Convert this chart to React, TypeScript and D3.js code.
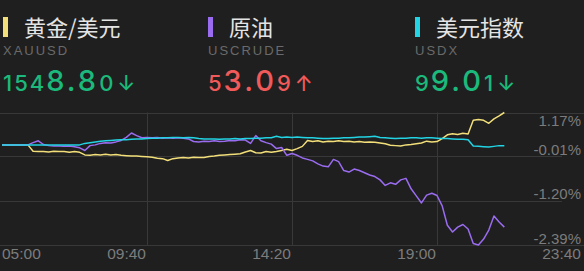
import React from "react";
import * as d3 from "d3";

const W = 584;
const H = 271;

// Quote header
const quoteNames = ["黄金/美元", "原油", "美元指数"];
const quoteCodes = ["XAUUSD", "USCRUDE", "USDX"];
const quotePrices = ["1548.80", "53.09", "99.01"];
const quoteMoves = ["down", "up", "down"];
const seriesColors = ["#f2df7a", "#9a6cf0", "#22d4e4"];

// Axes
const timeLabels = ["05:00", "09:40", "14:20", "19:00", "23:40"];
const timeTicks = [0, 280, 560, 840, 1120]; // minutes after 05:00
const pctTicks = [1.17, -0.01, -1.2, -2.39];
const pctLabels = ["1.17%", "-0.01%", "-1.20%", "-2.39%"];

// Intraday change (%), one sample every 10 minutes from 05:00
const sampleMinutes = d3.range(0, 971, 10);

const gold = [
  0.3, 0.3, 0.3, 0.3, 0.3, 0.3, 0.13, 0.12, 0.12, 0.11,
  0.13, 0.12, 0.12, 0.1, 0.12, 0.1, 0.03, 0.02, 0.04, 0.03,
  0.05, 0.03, 0.04, 0.02, 0.01, 0.0, 0.0, -0.01, -0.02, -0.03,
  -0.06, -0.07, -0.12, -0.07, -0.05, -0.04, -0.05, -0.03, -0.04, -0.04,
  -0.01, 0.0, 0.02, 0.03, 0.04, 0.05, 0.06, 0.11, 0.15, 0.09,
  0.08, 0.12, 0.1, 0.12, 0.15, 0.18, 0.15, 0.2, 0.26, 0.42,
  0.39, 0.41, 0.38, 0.4, 0.39, 0.41, 0.39, 0.4, 0.38, 0.39,
  0.37, 0.38, 0.37, 0.35, 0.33, 0.29, 0.28, 0.27, 0.3, 0.31,
  0.33, 0.35, 0.4, 0.38, 0.39, 0.47, 0.57, 0.6, 0.58, 0.61,
  0.59, 0.96, 0.98, 0.96, 0.88, 1.0, 1.08, 1.17,
];

const oil = [
  0.3, 0.3, 0.3, 0.3, 0.3, 0.3, 0.36, 0.41, 0.31, 0.28,
  0.27, 0.27, 0.26, 0.27, 0.25, 0.22, 0.15, 0.28, 0.3, 0.34,
  0.36, 0.35, 0.38, 0.42, 0.5, 0.62, 0.55, 0.49, 0.5, 0.49,
  0.5, 0.48, 0.49, 0.48, 0.49, 0.48, 0.46, 0.39, 0.38, 0.4,
  0.39, 0.41, 0.39, 0.4, 0.42, 0.41, 0.44, 0.43, 0.34, 0.55,
  0.41, 0.36, 0.32, 0.2, 0.23, 0.02, 0.07, 0.02, -0.05, -0.09,
  -0.13, -0.21, -0.27, -0.29, -0.09, -0.15, -0.39, -0.43, -0.35, -0.39,
  -0.45, -0.51, -0.55, -0.64, -0.79, -0.72, -0.76, -0.64, -0.6, -0.88,
  -1.07, -1.26, -1.05, -1.0, -1.06, -1.34, -1.86, -2.04, -1.91, -1.84,
  -1.96, -2.35, -2.39, -2.23, -1.99, -1.61, -1.77, -1.91,
];

const usdx = [
  0.3, 0.3, 0.3, 0.3, 0.3, 0.3, 0.3, 0.3, 0.3, 0.3,
  0.3, 0.3, 0.3, 0.3, 0.3, 0.3, 0.34, 0.36, 0.38, 0.4,
  0.41, 0.42, 0.43, 0.44, 0.44, 0.45, 0.46, 0.46, 0.47, 0.48,
  0.48, 0.49, 0.49, 0.5, 0.5, 0.49, 0.5, 0.49, 0.47, 0.46,
  0.46, 0.46, 0.45, 0.46, 0.46, 0.47, 0.46, 0.47, 0.47, 0.48,
  0.48, 0.49, 0.49, 0.53, 0.5, 0.51, 0.5, 0.51, 0.5, 0.49,
  0.49, 0.48, 0.47, 0.47, 0.48, 0.48, 0.49, 0.49, 0.5, 0.51,
  0.51, 0.52, 0.53, 0.5, 0.49, 0.48, 0.47, 0.48, 0.48, 0.49,
  0.49, 0.48, 0.49, 0.49, 0.48, 0.47, 0.47, 0.46, 0.45, 0.45,
  0.44, 0.27, 0.26, 0.25, 0.24, 0.26, 0.28, 0.28,
];

const seriesList = [gold, oil, usdx];

const BG = "#1f1f1f";
const GRID = "#383838";
const AXIS_TEXT = "#7c7c7c";
const UP = "#f05a5a";
const DOWN = "#1bb97b";
const LATIN = "'Liberation Sans', Arial, sans-serif";
const PRICE_FONT = "Inter, 'Liberation Sans', sans-serif";
const CJK = "'Noto Sans CJK SC', 'Noto Sans', sans-serif";

const columnX = [3, 208, 415];

function Quote({ i }: { i: number }) {
  const x0 = columnX[i];
  const price = quotePrices[i];
  const head = price.slice(0, -4);
  const mid = price.slice(-4, -1);
  const tail = price.slice(-1);
  const up = quoteMoves[i] === "up";
  const color = up ? UP : DOWN;
  return (
    <g>
      <rect x={x0} y={17} width={5} height={20} fill={seriesColors[i]} />
      <text x={x0 + 21} y={35.5} fill="#e4e4e4" fontSize={22} fontFamily={CJK}>
        {quoteNames[i]}
      </text>
      <text x={x0} y={55} fill="#6a6a6a" fontSize={13} letterSpacing={2} fontFamily={LATIN}>
        {quoteCodes[i]}
      </text>
      <text x={x0} y={91} fill={color} fontFamily={PRICE_FONT} fontWeight={500}>
        <tspan fontSize={22} letterSpacing={2}>{head}</tspan>
        <tspan fontSize={29} letterSpacing={3}>{mid}</tspan>
        <tspan fontSize={22} letterSpacing={1}>{tail}</tspan>
        <tspan fontSize={21} dx={3}>{up ? "↑" : "↓"}</tspan>
      </text>
    </g>
  );
}

export default function App() {
  const x = d3.scaleLinear().domain([0, 1120]).range([2, 582]);
  const y = d3.scaleLinear().domain([-2.39, 1.17]).range([245, 112.5]);

  const line = d3
    .line<number>()
    .x((_, i) => x(sampleMinutes[i]))
    .y((d) => y(d));

  return (
    <svg
      width={W}
      height={H}
      style={{ position: "fixed", left: 0, top: 0, background: BG }}
    >
      <rect width={W} height={H} fill={BG} />
      {quoteNames.map((_, i) => (
        <Quote key={i} i={i} />
      ))}

      {/* horizontal grid */}
      {pctTicks.map((t, i) => {
        const yy = Math.round(y(t)) + 0.5;
        const full = i === 0 || i === pctTicks.length - 1;
        return (
          <line key={t} x1={0} x2={full ? W : 562} y1={yy} y2={yy} stroke={GRID} />
        );
      })}
      {/* vertical grid */}
      {timeTicks.slice(1, -1).map((t) => {
        const xx = Math.round(x(t)) + 0.5;
        return (
          <line key={t} x1={xx} x2={xx} y1={y(1.17)} y2={y(-2.39)} stroke={GRID} />
        );
      })}

      {/* series */}
      {seriesList.map((s, i) => (
        <path
          key={i}
          d={line(s) ?? ""}
          fill="none"
          stroke={seriesColors[i]}
          strokeWidth={1.5}
          strokeLinejoin="round"
        />
      ))}

      {/* y labels */}
      {pctTicks.map((t, i) => (
        <text
          key={t}
          x={581}
          y={i === 0 ? y(t) + 13 : y(t) - 1.5}
          textAnchor="end"
          fill={AXIS_TEXT}
          fontSize={15}
          fontFamily={LATIN}
        >
          {pctLabels[i]}
        </text>
      ))}

      {/* x labels */}
      {timeTicks.map((t, i) => (
        <text
          key={t}
          x={i === 0 ? x(t) : x(t) - 1}
          y={259}
          textAnchor={i === 0 ? "start" : "end"}
          fill={AXIS_TEXT}
          fontSize={15.5}
          fontFamily={LATIN}
        >
          {timeLabels[i]}
        </text>
      ))}
    </svg>
  );
}
